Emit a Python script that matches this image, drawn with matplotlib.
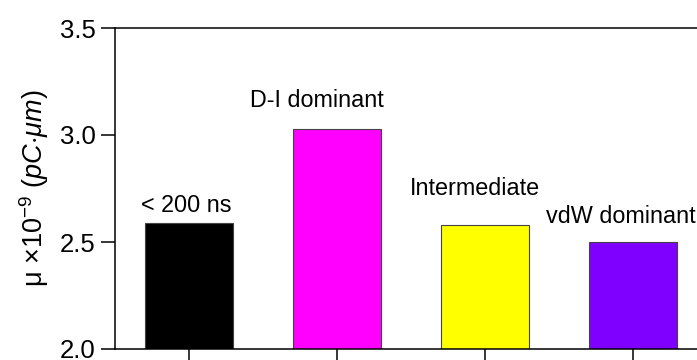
import numpy as np
import matplotlib.pyplot as plt

plt.rcParams['font.family'] = ['Liberation Sans', 'DejaVu Sans']
plt.rcParams['mathtext.fontset'] = 'custom'
plt.rcParams['mathtext.it'] = 'Liberation Sans:italic'
plt.rcParams['mathtext.rm'] = 'Liberation Sans'

# dipole moment per regime
regimes = ["< 200 ns", "D-I dominant", "Intermediate", "vdW dominant"]
mu = [2.59, 3.03, 2.58, 2.50]
colors = ["#000000", "#FF00FF", "#FFFF00", "#8000FF"]
# label placement relative to each bar (x shift, height above bar)
label_dx = [-0.02, -0.135, -0.07, -0.085]
label_dy = [0.08, 0.13, 0.17, 0.12]

fig = plt.figure(figsize=(6.97, 3.6), dpi=100)
ax = fig.add_axes([115/697, 11/360, 592/697, 321/360])

x = np.arange(1, len(mu) + 1)
ax.bar(x, mu, width=0.6, color=colors, edgecolor="#444444", linewidth=0.8)

for xi, m, name, dx, dy in zip(x, mu, regimes, label_dx, label_dy):
    ax.text(xi + dx, m + dy, name, ha="center", va="center", fontsize=16.8)

ax.set_xlim(0.5, 4.5)
ax.set_ylim(2.0, 3.5)
ax.set_yticks([2.0, 2.5, 3.0, 3.5])
ax.set_xticks(x)
ax.set_xticklabels([])
ax.tick_params(direction="out", length=10, width=1.1, labelsize=18.5)
ax.tick_params(axis="y", pad=4)
for s in ax.spines.values():
    s.set_linewidth(1.1)

ax.set_ylabel(r"μ ×10$^{-9}$ $(pC{\cdot}\mu m)$", fontsize=19.5, labelpad=6)

fig.savefig("out.png", dpi=100)
